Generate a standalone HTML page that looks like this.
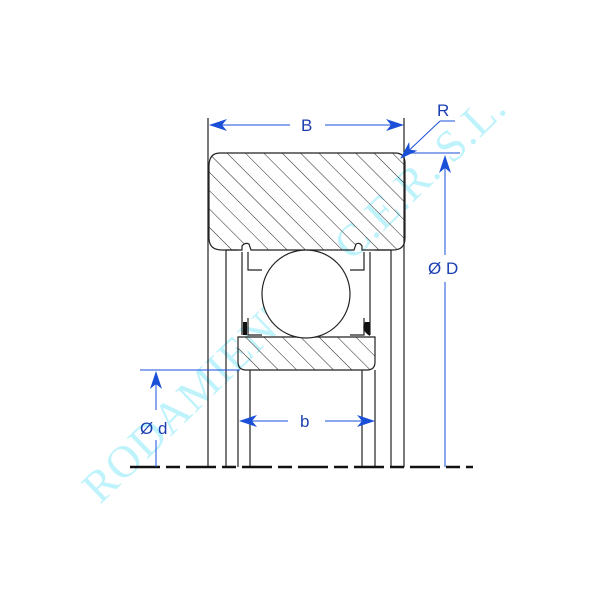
<!DOCTYPE html>
<html><head><style>body{margin:0;background:#fff}svg{display:block}</style></head>
<body>
<svg width="600" height="600" viewBox="0 0 600 600" xmlns="http://www.w3.org/2000/svg">
<defs>
<pattern id="h" patternUnits="userSpaceOnUse" width="13" height="13" patternTransform="rotate(-45)">
<line x1="0" y1="0" x2="0" y2="13" stroke="#222" stroke-width="1"/>
</pattern>
<marker id="a" markerWidth="18" markerHeight="12" refX="17" refY="6" orient="auto" markerUnits="userSpaceOnUse">
<path d="M0,0 L18,6 L0,12 L5,6 Z" fill="#1a4fd8"/>
</marker>
</defs>
<text x="0" y="0" transform="translate(100,505) rotate(-44)" font-family="Liberation Serif, serif" font-size="45" fill="#bff3fb" letter-spacing="1">RODAMIENTOS C.E.R. S.L.</text>

<g stroke="#222" stroke-width="1.2" fill="none">
<path d="M220,153 H395 Q405,153 405,163 V238 Q405,250 393,250 H362 V246 Q360,242 356,244 L354,250 H251 L249,244 Q245,242 242,246 V250 H222 Q209,250 209,238 V166 Q209,153 220,153 Z" fill="url(#h)"/>
<path d="M238,337 H375 V362 Q375,370 367,370 H246 Q238,370 238,362 Z" fill="url(#h)"/>
<circle cx="306" cy="294" r="44" fill="#fff"/>
<line x1="208" y1="118" x2="208" y2="467"/>
<line x1="404" y1="118" x2="404" y2="467"/>
<line x1="226" y1="250" x2="226" y2="467"/>
<line x1="238" y1="370" x2="238" y2="467"/>
<line x1="250" y1="370" x2="250" y2="467"/>
<line x1="362" y1="370" x2="362" y2="467"/>
<line x1="375" y1="370" x2="375" y2="467"/>
<line x1="391" y1="250" x2="391" y2="467"/>
<path d="M242,252 V335 M248,252 V270 H262 M248,318 V335 H262"/>
<path d="M370,252 V335 M364,252 V270 H350 M364,318 V335 H350"/>
<line x1="226" y1="250" x2="238" y2="250"/>
<line x1="375" y1="250" x2="391" y2="250"/>
</g>
<rect x="243" y="322" width="4" height="13" fill="#111"/>
<path d="M365,322 Q360,330 370,336 V322 Z" fill="#111"/>

<path d="M130,467 H473" stroke="#111" stroke-width="2.5" stroke-dasharray="30,6,14,6"/>

<g stroke="#1a4fd8" stroke-width="1" fill="none">
<line x1="290" y1="125" x2="210" y2="125" marker-end="url(#a)"/>
<line x1="325" y1="125" x2="403" y2="125" marker-end="url(#a)"/>
<line x1="455" y1="121" x2="440" y2="121"/>
<line x1="440" y1="121" x2="401" y2="158" marker-end="url(#a)"/>
<line x1="405" y1="153" x2="460" y2="153"/>
<line x1="445" y1="255" x2="445" y2="156" marker-end="url(#a)"/>
<line x1="445" y1="282" x2="445" y2="467"/>
<line x1="140" y1="370" x2="240" y2="370"/>
<line x1="156" y1="410" x2="156" y2="372" marker-end="url(#a)"/>
<line x1="156" y1="440" x2="156" y2="467"/>
<line x1="288" y1="421" x2="240" y2="421" marker-end="url(#a)"/>
<line x1="325" y1="421" x2="374" y2="421" marker-end="url(#a)"/>
</g>
<g font-family="Liberation Sans, sans-serif" font-size="17" fill="#1a3fb0">
<text x="301" y="131">B</text>
<text x="437" y="116">R</text>
<text x="428" y="274">Ø D</text>
<text x="140" y="434">Ø d</text>
<text x="300" y="427">b</text>
</g>
</svg>
</body></html>
